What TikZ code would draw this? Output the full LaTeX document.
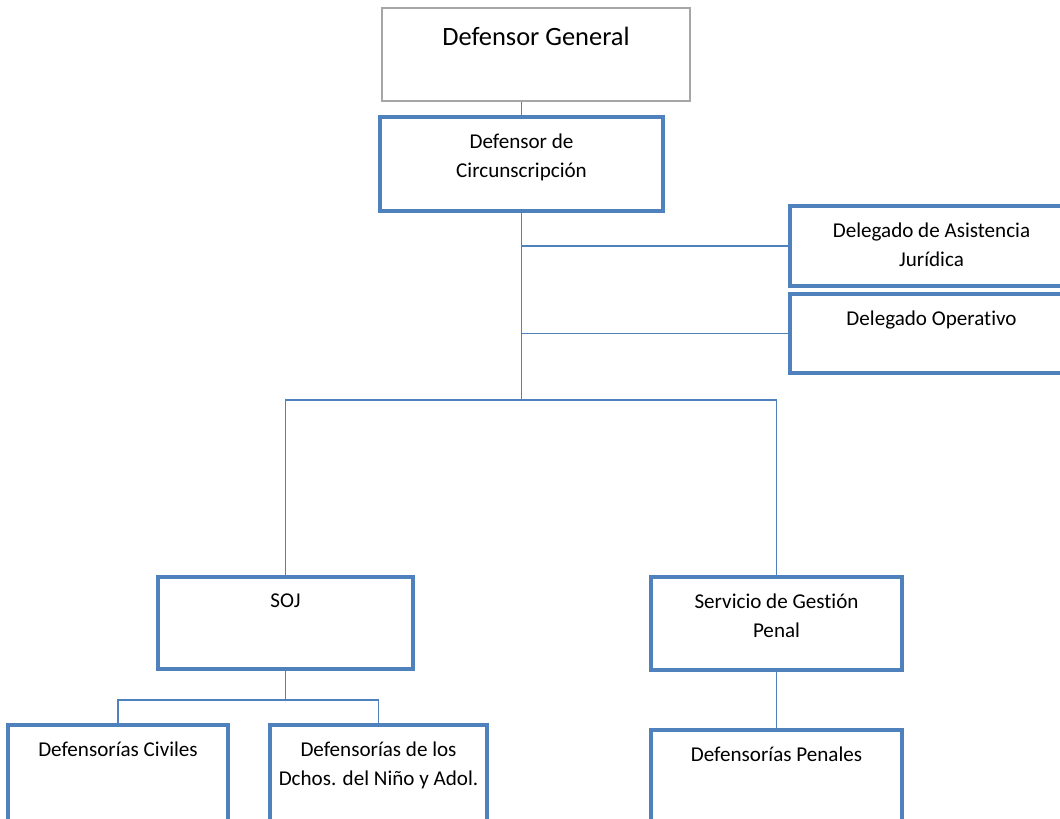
\documentclass[tikz,border=0pt]{standalone}
\usepackage{fontspec}
\setmainfont{Carlito}[Ligatures=NoCommon]
\usetikzlibrary{calc}
\definecolor{boxblue}{HTML}{4F81BD}
\definecolor{boxgray}{HTML}{A6A6A6}
\begin{document}
\begin{tikzpicture}[
    box/.style={rectangle, draw=boxblue, line width=2.7pt, inner sep=0pt},
    lbl/.style={anchor=north, align=center, inner sep=0pt, font=\fontsize{15}{20.5}\selectfont, yshift=-13pt},
    link/.style={draw=boxblue, line width=1.1pt}
  ]
    \useasboundingbox (0,0) rectangle (26.5,-20.475);
    \clip (0,0) rectangle (26.5,-20.475);
    \node[box, draw=boxgray, line width=1.5pt, minimum width=7.7cm, minimum height=2.325cm,
      label={[lbl, font=\fontsize{18.8}{22}\selectfont, yshift=-1pt]north:Defensor General}] (gen) at (13.4,-1.3625) {};
    \node[box, minimum width=7.075cm, minimum height=2.35cm,
      label={[lbl]north:Defensor de\\Circunscripción}] (circ) at (13.0375,-4.1) {};
    \node[box, minimum width=7.075cm, minimum height=2cm,
      label={[lbl]north:Delegado de Asistencia\\Jurídica}] (asis) at (23.2875,-6.15) {};
    \node[box, minimum width=7.075cm, minimum height=1.975cm,
      label={[lbl]north:Delegado Operativo}] (oper) at (23.2875,-8.3375) {};
    \node[box, minimum width=6.375cm, minimum height=2.3cm,
      label={[lbl]north:SOJ}] (soj) at (7.1375,-15.575) {};
    \node[box, minimum width=6.275cm, minimum height=2.325cm,
      label={[lbl]north:Servicio de Gestión\\Penal}] (gest) at (19.4125,-15.5875) {};
    \node[box, minimum width=5.5cm, minimum height=2.5cm,
      label={[lbl]north:Defensorías Civiles}] (civ) at (2.95,-19.375) {};
    \node[box, minimum width=5.425cm, minimum height=2.5cm,
      label={[lbl]north:Defensorías de los\\Dchos. del Niño y Adol.}] (nino) at (9.4625,-19.375) {};
    \node[box, minimum width=6.275cm, minimum height=2.5cm,
      label={[lbl]north:Defensorías Penales}] (pen) at (19.4125,-19.5) {};
    % connectors
    \coordinate (bus) at ($(circ.south)+(0,-4.675)$);
    \coordinate (sojbus) at ($(soj.south)+(0,-0.725)$);
    \draw[link] (circ.north |- gen.south) -- (circ.north);
    \draw[link] (circ.south) -- (bus);
    \draw[link] (circ.south |- asis.west) -- (asis.west);
    \draw[link] (circ.south |- oper.west) -- (oper.west);
    \draw[link] (soj.north) |- (bus) -| (gest.north);
    \draw[link] (soj.south) -- (sojbus);
    \draw[link] (civ.north) |- (sojbus) -| (nino.north);
    \draw[link] (gest.south) -- (pen.north);
\end{tikzpicture}
\end{document}
